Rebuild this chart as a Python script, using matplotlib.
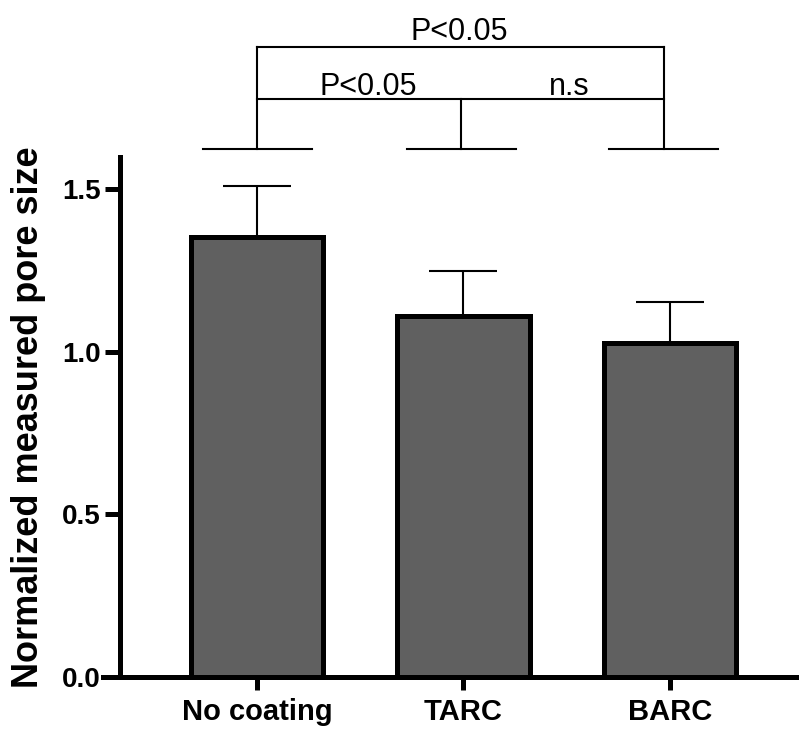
import matplotlib
matplotlib.use('Agg')
import matplotlib.pyplot as plt
import numpy as np

plt.rcParams['font.family'] = ['Liberation Sans', 'DejaVu Sans']

# datos
groups = ['No coating', 'TARC', 'BARC']
means = [1.354, 1.110, 1.027]
sd = [0.155, 0.138, 0.126]
ytick_vals = [0.0, 0.5, 1.0, 1.5]
ytick_labels = ['0.0', '0.5', '1.0', '1.5']

bar_color = '#606060'

fig = plt.figure(figsize=(7.99, 7.31), dpi=100)
ax = fig.add_axes([0.1289, 0.0739, 0.8711, 0.712])

# primero la posicion del eje (set_position reinicia los ticks)
ax.spines['top'].set_visible(False)
ax.spines['right'].set_visible(False)
ax.spines['left'].set_position(('data', -0.663))
ax.spines['left'].set_linewidth(3.6)
ax.spines['bottom'].set_linewidth(3.6)

x = np.arange(len(groups))
ax.bar(x, means, width=0.64, color=bar_color, edgecolor='black', linewidth=3.6, zorder=2)
# solo la barra de error superior
ax.errorbar(x, means, yerr=[np.zeros(len(sd)), sd], fmt='none', ecolor='black',
            elinewidth=1.5, capsize=24.5, capthick=1.5, zorder=1)

ax.set_xlim(-0.746, 2.625)
ax.set_ylim(0, 1.6)
ax.set_yticks(ytick_vals)
ax.set_yticklabels(ytick_labels, fontsize=20, fontweight='bold')
ax.set_xticks(x)
ax.set_xticklabels(groups, fontsize=21, fontweight='bold')
ax.tick_params(axis='y', length=11, width=3.6, pad=3)
ax.tick_params(axis='x', length=9, width=3.6, pad=6)

ax.set_ylabel('Normalized measured pore size', fontsize=26, fontweight='bold')
ax.yaxis.set_label_coords(-0.082, 0.5)

# corchetes de significancia
lw = 1.5
half = 0.264
base_y = 1.623
mid_y = 1.777
top_y = 1.937
for cx in [0, 0.99, 1.97]:
    ax.plot([cx - half, cx + half], [base_y, base_y], color='black', lw=lw, clip_on=False)
ax.plot([0, 0], [base_y, top_y], color='black', lw=lw, clip_on=False)
ax.plot([0.99, 0.99], [base_y, mid_y], color='black', lw=lw, clip_on=False)
ax.plot([1.97, 1.97], [base_y, top_y], color='black', lw=lw, clip_on=False)
ax.plot([0, 1.97], [mid_y, mid_y], color='black', lw=lw, clip_on=False)
ax.plot([0, 1.97], [top_y, top_y], color='black', lw=lw, clip_on=False)

ax.text(0.538, 1.79, 'P<0.05', fontsize=22, ha='center', va='baseline')
ax.text(1.513, 1.79, 'n.s', fontsize=22, ha='center', va='baseline')
ax.text(0.98, 1.958, 'P<0.05', fontsize=22, ha='center', va='baseline')

fig.savefig('out.png', dpi=100)
